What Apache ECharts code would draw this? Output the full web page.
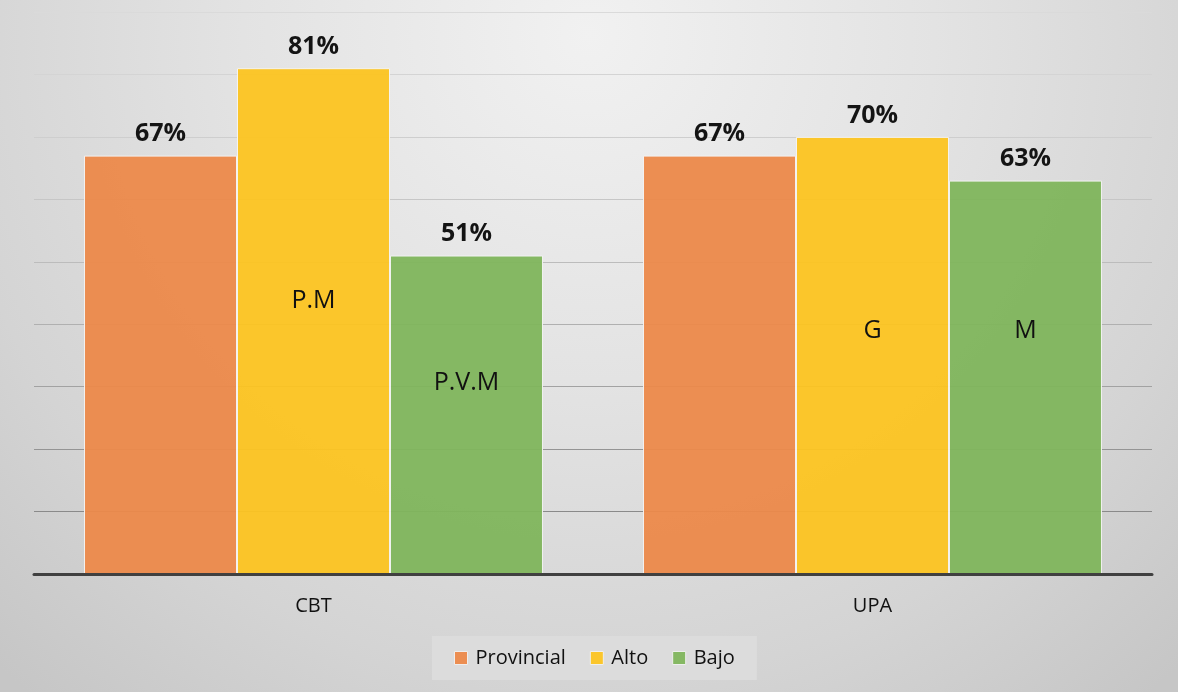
<!DOCTYPE html>
<html>
<head>
<meta charset="utf-8">
<script src="https://cdn.jsdelivr.net/npm/echarts@6/dist/echarts.min.js"></script>
<style>
  html, body { margin: 0; padding: 0; }
  #chart { width: 1178px; height: 692px; }
</style>
</head>
<body>
<div id="chart"></div>
<script>
// datos
const categories = ['CBT', 'UPA'];
const seriesNames = ['Provincial', 'Alto', 'Bajo'];
const provincial = [67, 67];
const alto = [81, 70];
const bajo = [51, 63];
// notas dentro de las barras y su nivel (en % del eje)
const altoNotes = ['P.M', 'G'];
const altoNoteAt = [43.8, 38.9];
const bajoNotes = ['P.V.M', 'M'];
const bajoNoteAt = [30.6, 38.9];
const yTicks = [0, 10, 20, 30, 40, 50, 60, 70, 80, 90];

const colors = ['#EC894A', '#FCC421', '#7FB55C'];
const font = '"Open Sans", "DejaVu Sans", sans-serif';

// lineas de division: mas oscuras abajo, mas claras arriba
const gridColors = ['#8a8a8a', '#8a8a8a', '#949494', '#a2a2a2', '#b0b0b0', '#bcbcbc', '#c6c6c6', '#cecece', '#d4d4d4', '#dadada'];

const noteMarks = (notes, levels) => ({
    symbol: 'circle',
    symbolSize: 1,
    itemStyle: { color: 'rgba(0,0,0,0)' },
    label: {
        show: true,
        position: 'inside',
        formatter: (p) => p.name,
        color: '#111',
        fontFamily: font,
        fontSize: 25,
    },
    data: notes.map((n, i) => ({ name: n, coord: [categories[i], levels[i]] })),
});

const makeSeries = (name, values, color, marks) => ({
    name: name,
    type: 'bar',
    data: values,
    barGap: '0%',
    barCategoryGap: '17.9%',
    itemStyle: { color: color, opacity: 0.95, borderColor: '#f4f4f4', borderWidth: 1 },
    label: {
        show: true,
        position: 'top',
        distance: 9,
        formatter: '{c}%',
        color: '#080808',
        fontFamily: font,
        fontWeight: 'bold',
        fontSize: 25,
    },
    markPoint: marks,
});

const chart = echarts.init(document.getElementById('chart'));
chart.setOption({
    animation: false,
    backgroundColor: {
        type: 'radial', x: 0.5, y: 0.05, r: 1.25,
        colorStops: [
            { offset: 0, color: '#f1f1f1' },
            { offset: 0.4, color: '#e3e3e3' },
            { offset: 0.75, color: '#d4d4d4' },
            { offset: 1, color: '#c6c6c6' },
        ],
    },
    grid: { left: 34, right: 26, top: 12, bottom: 118 },
    legend: {
        data: seriesNames,
        icon: 'rect',
        left: 432,
        top: 636,
        padding: [12, 22, 12, 22],
        backgroundColor: '#dcdcdc',
        itemWidth: 13,
        itemHeight: 13,
        itemGap: 24,
        itemStyle: { borderColor: '#f0f0f0', borderWidth: 1 },
        textStyle: { color: '#111', fontFamily: font, fontSize: 20, padding: [0, 0, 0, 3] },
    },
    xAxis: {
        type: 'category',
        data: categories,
        axisLine: { lineStyle: { color: '#404040', width: 3 } },
        axisTick: { show: false },
        axisLabel: { color: '#111', fontFamily: font, fontSize: 20, margin: 22 },
        z: 5,
    },
    yAxis: {
        type: 'value',
        min: yTicks[0],
        max: yTicks[yTicks.length - 1],
        interval: 10,
        axisLabel: { show: false },
        axisLine: { show: false },
        axisTick: { show: false },
        splitLine: { lineStyle: { color: gridColors, width: 1.2 } },
    },
    series: [
        makeSeries(seriesNames[0], provincial, colors[0]),
        makeSeries(seriesNames[1], alto, colors[1], noteMarks(altoNotes, altoNoteAt)),
        makeSeries(seriesNames[2], bajo, colors[2], noteMarks(bajoNotes, bajoNoteAt)),
    ],
});
</script>
</body>
</html>
